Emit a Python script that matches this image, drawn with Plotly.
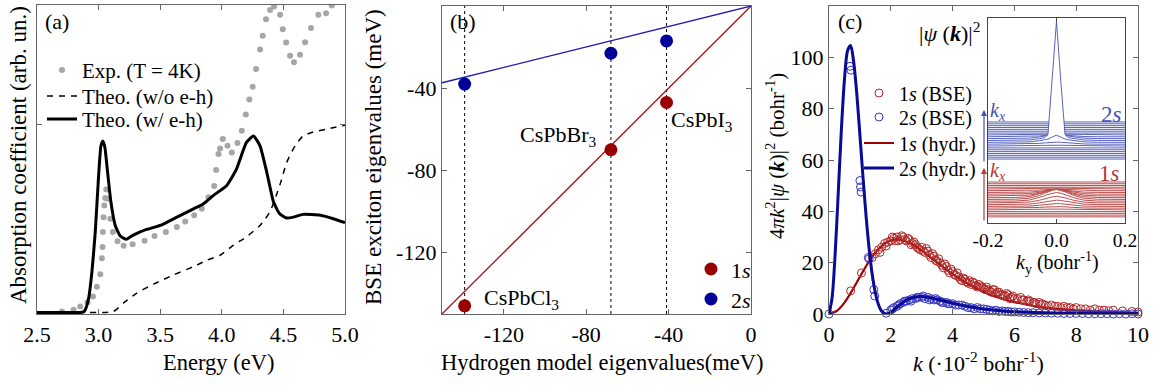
import plotly.graph_objects as go

W, H = 1158, 386
def px(x): return x / W
def py(y): return 1 - y / H

FONT = "'Liberation Serif', 'Times New Roman', Times, 'DejaVu Serif', serif"

# ---------------- data: panel (a) ----------------
exp_E = [2.703, 2.797, 2.851, 2.91, 2.954, 2.986, 3.014, 3.027, 3.032, 3.035, 3.04, 3.046, 3.054, 3.062,
         3.073, 3.095, 3.116, 3.154, 3.203, 3.276, 3.373, 3.454, 3.546, 3.635, 3.703, 3.776, 3.838, 3.892,
         3.938, 3.954, 3.973, 3.986, 4.008, 4.046, 4.081, 4.127, 4.162, 4.195, 4.224, 4.251, 4.278, 4.311,
         4.332, 4.359, 4.392, 4.424, 4.473, 4.495, 4.522, 4.554, 4.586, 4.635, 4.676, 4.724, 4.784, 4.846, 4.892]
exp_abs = [0.3, 0.9, 1.9, 3.3, 5.2, 8.4, 12.4, 17.6, 21.3, 26.2, 31.0, 34.8, 37.2, 40.0,
           37.0, 30.5, 26.2, 23.2, 21.7, 22.2, 23.3, 24.9, 26.2, 27.8, 29.6, 31.6, 33.7, 37.5,
           41.1, 46.3, 51.5, 53.3, 56.4, 54.2, 52.0, 55.1, 59.1, 64.4, 69.3, 73.4, 79.2, 85.5,
           90.0, 95.4, 98.4, 99.5, 96.8, 92.1, 87.8, 83.5, 81.4, 83.8, 87.9, 92.5, 96.8, 97.3, 99.8]

theo_eh_E = [2.5, 2.85, 2.878, 2.892, 2.919, 2.946, 2.973, 3.0, 3.019, 3.035, 3.051, 3.073, 3.1, 3.135,
             3.176, 3.224, 3.27, 3.338, 3.39, 3.5, 3.635, 3.77, 3.85, 3.93, 4.04, 4.12, 4.2, 4.257,
             4.31, 4.365, 4.42, 4.47, 4.527, 4.58, 4.66, 4.8, 4.905, 5.0]
theo_eh_abs = [0, 0, 0.2, 0.9, 4.6, 13.3, 26.2, 44.5, 54.2, 55.8, 53.7, 45.6, 35.9, 28.3,
               24.9, 23.8, 24.9, 26.2, 27.0, 28.3, 31.0, 33.7, 35.3, 38.0, 41.3, 46.7, 55.3, 57.4,
               54.2, 45.6, 35.9, 32.1, 30.7, 31.0, 31.9, 31.6, 30.5, 29.2]

theo_noeh_E = [2.93, 3.12, 3.2, 3.31, 3.446, 3.608, 3.77, 3.88, 3.986, 4.095, 4.2, 4.31, 4.39, 4.47,
               4.527, 4.595, 4.66, 4.743, 4.85, 5.0]
theo_noeh_abs = [0, 0.3, 3.0, 6.3, 9.2, 12.2, 14.9, 17.0, 18.6, 21.9, 24.6, 28.3, 32.7, 41.3,
                 48.8, 54.2, 57.4, 58.7, 59.6, 60.9]

energy_ticks = [2.5, 3.0, 3.5, 4.0, 4.5, 5.0]
energy_ticktext = ["2.5", "3.0", "3.5", "4.0", "4.5", "5.0"]

# ---------------- data: panel (b) ----------------
materials = ["CsPbCl<sub>3</sub>", "CsPbBr<sub>3</sub>", "CsPbI<sub>3</sub>"]
hyd_1s = [-139, -68, -41]
bse_1s = [-146, -70, -47]
hyd_2s = [-139, -68, -41]
bse_2s = [-38, -23, -17]
fit_x = [-150, 0]
fit_1s = [-150, 0]
fit_2s = [-37.4, 0]
ev_ticks = [-120, -80, -40, 0]
ev_ticktext = ["-120", "-80", "-40", "0"]

# ---------------- data: panel (c) ----------------
k_1s_h = [0, 0.25, 0.5, 0.75, 1.0, 1.25, 1.5, 1.75, 2.0, 2.25, 2.5, 2.75, 3.0, 3.5, 4.0, 4.5, 5.0,
          5.5, 6.0, 6.5, 7.0, 7.5, 8.0, 9.0, 10.0]
v_1s_h = [0, 1.16, 4.42, 9.15, 14.5, 19.66, 23.95, 26.97, 28.62, 28.98, 28.27, 26.77, 24.75, 20.07,
          15.5, 11.66, 8.6, 6.33, 4.65, 3.42, 2.53, 1.89, 1.4, 0.82, 0.49]

k_2s_h = [0, 0.1, 0.2, 0.3, 0.4, 0.5, 0.6, 0.7, 0.8, 0.9, 1.0, 1.1, 1.2, 1.3, 1.4, 1.5, 1.6, 1.7,
          1.85, 2.0, 2.2, 2.5, 2.8, 3.0, 3.5, 4.0, 4.5, 5.0, 6.0, 7.0, 8.0, 10.0]
v_2s_h = [0, 6.33, 23.6, 47.4, 71.7, 91.3, 102.6, 104.6, 98.1, 85.7, 69.8, 53.4, 38.1, 25.3, 15.3,
          8.3, 3.7, 1.15, 0, 0.71, 2.72, 5.42, 6.64, 6.79, 5.72, 4.17, 2.89, 1.97, 0.91, 0.44, 0.22, 0.06]

k_1s_bse = [0.7, 1.05, 1.4, 1.5, 1.6, 1.7, 1.8, 1.9, 2.0, 2.1, 2.2, 2.3, 2.4, 2.5, 2.6, 2.7, 2.8, 2.9,
            3.0, 3.1, 3.2, 3.3, 3.4, 3.5, 3.6, 3.7, 3.8, 3.9, 4.0, 4.1, 4.2, 4.3, 4.4, 4.5, 4.6, 4.7,
            4.8, 4.9, 5.0, 5.1, 5.2, 5.3, 5.4, 5.5, 5.6, 5.7, 5.8, 5.9, 6.0, 6.2, 6.4, 6.6, 6.8, 7.0,
            7.2, 7.4, 7.6, 7.8, 8.0, 8.3, 8.6, 8.9, 9.2, 9.5, 9.8, 10.0,
            1.65, 1.85, 2.05, 2.25, 2.45, 2.65, 2.85, 3.05, 3.25, 3.45, 3.65, 3.85, 4.05, 4.25, 4.45,
            4.65, 4.85, 5.05, 5.25, 5.45, 5.65, 5.85, 6.1, 6.3, 6.5, 6.7, 6.9, 7.1, 7.5, 7.9,
            2.15, 2.35, 2.55, 2.75, 2.95, 3.15, 3.35, 3.55, 3.75, 3.95, 4.15, 4.35, 4.55, 4.75, 4.95,
            5.15, 5.35, 5.55, 5.75, 5.95, 6.25, 6.45, 6.65, 6.85, 7.3, 7.7, 8.15, 8.45, 8.75, 9.05]
v_1s_bse = [9.0, 16.0, 22.0, 23.5, 25.0, 26.0, 27.5, 28.0, 28.5, 29.5, 30.0, 29.0, 30.0, 28.5, 29.0,
            27.5, 27.0, 25.5, 26.0, 24.0, 24.5, 22.0, 22.5, 20.5, 20.0, 18.0, 18.5, 16.0, 16.5, 15.0,
            14.5, 13.0, 13.5, 12.0, 11.5, 12.0, 10.5, 11.0, 10.0, 10.5, 9.0, 9.5, 8.0, 8.5, 7.5, 7.0,
            7.5, 6.5, 6.0, 6.5, 5.0, 4.5, 4.5, 3.5, 3.5, 3.0, 3.0, 2.5, 2.5, 2.0, 2.0, 1.5, 1.5, 1.2,
            1.0, 0.8,
            24.0, 26.5, 30.0, 28.5, 29.0, 27.0, 26.0, 24.5, 23.0, 21.0, 19.0, 17.0, 15.5, 13.5, 12.5,
            12.5, 11.5, 9.5, 8.5, 8.5, 7.0, 6.0, 6.0, 5.5, 5.0, 4.0, 4.0, 3.0, 2.5, 2.0,
            28.5, 30.5, 29.5, 28.0, 25.0, 25.5, 23.5, 21.5, 19.5, 17.5, 16.0, 14.0, 13.0, 11.0, 10.5,
            9.5, 9.5, 7.5, 8.0, 7.0, 5.5, 5.5, 4.5, 3.5, 3.0, 2.5, 2.0, 1.5, 1.5, 1.3]

k_2s_bse = [0, 0.68, 0.71, 1.0, 1.02, 1.04, 1.27, 1.3, 1.45, 1.48, 1.85, 2.0, 2.1, 2.2, 2.3, 2.4, 2.5,
            2.6, 2.7, 2.8, 2.9, 3.0, 3.1, 3.2, 3.3, 3.4, 3.5, 3.6, 3.7, 3.8, 3.9, 4.0, 4.2, 4.4, 4.6,
            4.8, 5.0, 5.2, 5.4, 5.6, 5.8, 6.0, 6.3, 6.6, 7.0, 7.4, 7.8, 8.2, 8.6, 9.0, 9.4, 9.8, 10.0,
            2.05, 2.25, 2.45, 2.65, 2.85, 3.05, 3.25, 3.45, 3.65, 3.85, 4.1, 4.3, 4.5, 4.7, 4.9, 5.1,
            5.3, 5.5, 5.7, 5.9, 6.15, 6.45, 6.8, 7.2, 7.6, 8.0, 8.4, 8.8, 9.2, 9.6]
v_2s_bse = [0, 96.5, 95.0, 52.0, 49.5, 47.5, 22.0, 21.5, 9.5, 7.0, 0.3, 1.5, 2.5, 3.0, 4.0, 4.5, 5.0,
            5.5, 6.0, 6.0, 6.5, 6.5, 6.0, 6.5, 6.0, 5.5, 5.5, 5.0, 4.5, 4.5, 4.0, 4.0, 3.5, 3.0, 2.5,
            2.5, 2.0, 1.5, 1.5, 1.2, 1.0, 0.8, 0.6, 0.5, 0.4, 0.3, 0.2, 0.2, 0.1, 0.1, 0.1, 0.1, 0.0,
            2.0, 3.5, 5.0, 5.0, 6.5, 7.0, 5.5, 6.0, 4.5, 4.0, 3.5, 3.5, 2.5, 2.0, 2.0, 1.8,
            1.2, 1.0, 1.0, 0.8, 0.7, 0.5, 0.4, 0.3, 0.2, 0.2, 0.1, 0.1, 0.0, 0.0]

# inset (waterfall of |psi(k)|^2)
inset_kx = [-0.2, -0.18, -0.16, -0.14, -0.12, -0.1, -0.08, -0.06, -0.04, -0.02, 0.0,
            0.02, 0.04, 0.06, 0.08, 0.1, 0.12, 0.14, 0.16, 0.18, 0.2]
inset_ky = [-0.2, -0.12, -0.08, -0.05, -0.035, -0.025, -0.012, 0.0, 0.012, 0.025, 0.035, 0.05, 0.08, 0.12, 0.2]
spike_shape = [0, 0, 0, 0, 0, 0.02, 0.5, 1.0, 0.5, 0.02, 0, 0, 0, 0, 0]
dome_shape = [0, 0.02, 0.12, 0.4, 0.62, 0.78, 0.93, 1.0, 0.93, 0.78, 0.62, 0.4, 0.12, 0.02, 0]
amp_2s_spike = [0, 0, 0, 0, 0, 0, 0, 0, 0, 0.015, 0.56, 0.015, 0, 0, 0, 0, 0, 0, 0, 0, 0]
amp_2s_dome = [0, 0, 0, 0, 0, 0, 0, 0.004, 0.01, 0.02, 0.022, 0.02, 0.01, 0.004, 0, 0, 0, 0, 0, 0, 0]
amp_1s_dome = [0, 0, 0.001, 0.002, 0.004, 0.008, 0.014, 0.022, 0.032, 0.042, 0.048, 0.042, 0.032,
               0.022, 0.014, 0.008, 0.004, 0.002, 0.001, 0, 0]
inset_ticks = [-0.2, 0.0, 0.2]
inset_ticktext = ["-0.2", "0.0", "0.2"]

# ---------------- colours ----------------
RED = "#990000"
BLUE = "#000099"
RED_L = "#a31515"
BLUE_L = "#1a1aa8"
RED_C = "#b02828"
BLUE_C = "#3838c0"
RED_W = "#b23a3a"
BLUE_W = "#4652b8"
AX = "#666666"

fig = go.Figure()

# ---- panel (a)
fig.add_trace(go.Scatter(x=exp_E, y=exp_abs, mode="markers", name="Exp. (T = 4K)",
                         marker=dict(color="#a6a6a6", size=6), xaxis="x", yaxis="y", legend="legend"))
fig.add_trace(go.Scatter(x=theo_noeh_E, y=theo_noeh_abs, mode="lines", name="Theo. (w/o e-h)",
                         line=dict(color="black", width=1.5, dash="6px,6px", shape="spline", smoothing=0.6),
                         xaxis="x", yaxis="y", legend="legend2"))
fig.add_trace(go.Scatter(x=theo_eh_E, y=theo_eh_abs, mode="lines", name="Theo. (w/ e-h)",
                         line=dict(color="black", width=3, shape="spline", smoothing=0.5),
                         xaxis="x", yaxis="y", legend="legend3"))

# ---- panel (b)
for xv in hyd_1s:
    fig.add_trace(go.Scatter(x=[xv, xv], y=[-150, 0], mode="lines", showlegend=False,
                             line=dict(color="black", width=1, dash="3px,3px"), xaxis="x2", yaxis="y2"))
fig.add_trace(go.Scatter(x=fit_x, y=fit_1s, mode="lines", showlegend=False,
                         line=dict(color=RED_L, width=1.3), xaxis="x2", yaxis="y2"))
fig.add_trace(go.Scatter(x=fit_x, y=fit_2s, mode="lines", showlegend=False,
                         line=dict(color=BLUE_L, width=1.3), xaxis="x2", yaxis="y2"))
fig.add_trace(go.Scatter(x=hyd_1s, y=bse_1s, mode="markers", name="1<i>s</i>",
                         marker=dict(color=RED, size=13), xaxis="x2", yaxis="y2", legend="legend4",
                         cliponaxis=False))
fig.add_trace(go.Scatter(x=hyd_2s, y=bse_2s, mode="markers", name="2<i>s</i>",
                         marker=dict(color=BLUE, size=13), xaxis="x2", yaxis="y2", legend="legend5",
                         cliponaxis=False))

# ---- panel (c)
fig.add_trace(go.Scatter(x=k_1s_h, y=v_1s_h, mode="lines", name="1<i>s</i> (hydr.)",
                         line=dict(color="#a00000", width=2.2, shape="spline", smoothing=0.8),
                         xaxis="x3", yaxis="y3", legend="legend8"))
fig.add_trace(go.Scatter(x=k_1s_bse, y=v_1s_bse, mode="markers", name="1<i>s</i> (BSE)",
                         marker=dict(symbol="circle-open", color=RED_C, size=8, line=dict(width=1)),
                         xaxis="x3", yaxis="y3", legend="legend6", cliponaxis=False))
fig.add_trace(go.Scatter(x=k_2s_bse, y=v_2s_bse, mode="markers", name="2<i>s</i> (BSE)",
                         marker=dict(symbol="circle-open", color=BLUE_C, size=8, line=dict(width=1)),
                         xaxis="x3", yaxis="y3", legend="legend7", cliponaxis=False))
fig.add_trace(go.Scatter(x=k_2s_h, y=v_2s_h, mode="lines", name="2<i>s</i> (hydr.)",
                         line=dict(color="#0a0a96", width=3, shape="spline", smoothing=0.8),
                         xaxis="x3", yaxis="y3", legend="legend9", cliponaxis=False))

# ---- inset waterfall (back rows first, white fill hides lines behind)
def waterfall(amp_a, shape_a, amp_b, shape_b, y0, height, floor, color):
    n = len(inset_kx)
    for i in range(n - 1, -1, -1):
        base = y0 + (inset_kx[i] - inset_kx[0]) / (inset_kx[-1] - inset_kx[0]) * height
        prof = [base + amp_a[i] * sa + (amp_b[i] * sb if amp_b else 0)
                for sa, sb in zip(shape_a, shape_b if shape_b else shape_a)]
        xs = inset_ky + [inset_ky[-1], inset_ky[0], inset_ky[0]]
        ys = prof + [floor, floor, prof[0]]
        fig.add_trace(go.Scatter(x=xs, y=ys, mode="lines", fill="toself", fillcolor="white",
                                 line=dict(color="rgba(0,0,0,0)", width=0), showlegend=False,
                                 hoverinfo="skip", xaxis="x4", yaxis="y4"))
        fig.add_trace(go.Scatter(x=inset_ky, y=prof, mode="lines", showlegend=False,
                                 line=dict(color=color, width=0.9), hoverinfo="skip",
                                 xaxis="x4", yaxis="y4"))

waterfall(amp_2s_spike, spike_shape, amp_2s_dome, dome_shape, 0.312, 0.181, 0.29, BLUE_W)
waterfall(amp_1s_dome, dome_shape, None, None, 0.03, 0.17, 0.005, RED_W)

# ---------------- axes ----------------
tickfont = dict(family=FONT, size=22, color="black")
common = dict(showline=True, linecolor=AX, linewidth=1.3, mirror="ticks", ticks="inside",
              ticklen=5, tickcolor=AX, tickwidth=1, showgrid=False, zeroline=False,
              tickfont=tickfont, automargin=False)
ydom = [py(314), py(6)]
fig.update_layout(
    xaxis=dict(domain=[px(37), px(345)], range=[2.5, 5.0], tickvals=energy_ticks,
               ticktext=energy_ticktext, anchor="y", **common),
    yaxis=dict(domain=[py(314), py(5)], range=[-0.5, 100], tickvals=[61], showticklabels=False,
               anchor="x", **common),
    xaxis2=dict(domain=[px(442), px(751)], range=[-150, 0], tickvals=ev_ticks, ticktext=ev_ticktext,
                anchor="y2", **common),
    yaxis2=dict(domain=ydom, range=[-150, 0], tickvals=ev_ticks, ticktext=ev_ticktext,
                anchor="x2", **common),
    xaxis3=dict(domain=[px(829), px(1138)], range=[0, 10], tickvals=[0, 2, 4, 6, 8, 10],
                anchor="y3", **common),
    yaxis3=dict(domain=ydom, range=[0, 120], tickvals=[0, 20, 40, 60, 80, 100, 120],
                anchor="x3", **common),
)
inset_common = dict(common)
inset_common.update(linecolor="#444444", linewidth=1, tickcolor="#444444", ticklen=4,
                    tickfont=dict(family=FONT, size=19.5, color="black"))
fig.update_layout(
    xaxis4=dict(domain=[px(988), px(1125)], range=[-0.2, 0.2], tickvals=inset_ticks,
                ticktext=inset_ticktext, anchor="y4", **inset_common),
    yaxis4=dict(domain=[py(223), py(18)], range=[0, 1], showticklabels=False, tickvals=[],
                anchor="x4", **inset_common),
)

# ---------------- legends (one entry each, positioned individually) ----------------
def leg(text_x, row_y, fs):
    h = 1.3 * fs + 3
    return dict(x=px(text_x - 40), y=py(row_y - h / 2 - 5), xanchor="left", yanchor="top",
                bgcolor="rgba(0,0,0,0)", borderwidth=0,
                font=dict(family=FONT, size=fs, color="black"))

fig.update_layout(
    legend=leg(82, 70, 21), legend2=leg(82, 96, 21), legend3=leg(82, 119, 21),
    legend4=leg(731, 269, 22), legend5=leg(731, 299, 22),
    legend6=leg(899, 93, 20), legend7=leg(899, 117, 20), legend8=leg(899, 143, 20),
    legend9=leg(899, 168, 20),
)

# ---------------- annotations ----------------
ann = []
def txt(text, x, y, size=22, xanchor="center", yanchor="middle", color="black", angle=0):
    ann.append(dict(text=text, x=px(x), y=py(y), xref="paper", yref="paper", showarrow=False,
                    xanchor=xanchor, yanchor=yanchor, textangle=angle,
                    font=dict(family=FONT, size=size, color=color)))

txt("(a)", 43, 22, 22, xanchor="left")
txt("(b)", 448, 22, 22, xanchor="left")
txt("(c)", 836, 22, 22, xanchor="left")
txt("Energy (eV)", 218, 362, 22.5)
txt("Hydrogen model eigenvalues(meV)", 602, 362, 22.5)
txt("<i>k</i> (·10<sup>-2</sup> bohr<sup>-1</sup>)", 978, 362, 22)
txt("Absorption coefficient (arb. un.)", 18, 155, 23, angle=-90)
txt("BSE exciton eigenvalues (meV)", 373, 157, 23, angle=-90)
txt("4<i>πk</i><sup>2</sup>|<i>ψ</i> (<b><i>k</i></b>)|<sup>2</sup> (bohr<sup>-1</sup>)", 775, 156, 21, angle=-90)
txt("|<i>ψ</i> (<b><i>k</i></b>)|<sup>2</sup>", 917, 32, 22, xanchor="left")
txt("2<i>s</i>", 1124, 115, 23, xanchor="right", color=BLUE_W)
txt("1<i>s</i>", 1122, 173, 23, xanchor="right", color=RED_W)
txt("<i>k</i><sub><i>x</i></sub>", 988, 112, 20, xanchor="left", color=BLUE_W)
txt("<i>k</i><sub><i>x</i></sub>", 988, 171, 20, xanchor="left", color=RED_W)
txt("<i>k</i><sub>y</sub> (bohr<sup>-1</sup>)", 1057, 263, 20)

# material labels attached to the 1s points
label_style = [dict(xanchor="left", xshift=17, yshift=7),
               dict(xanchor="right", xshift=-13, yshift=14),
               dict(xanchor="left", xshift=2, yshift=-18)]
for name, xv, yv, st in zip(materials, hyd_1s, bse_1s, label_style):
    ann.append(dict(text=name, x=xv, y=yv, xref="x2", yref="y2", showarrow=False,
                    yanchor="middle", font=dict(family=FONT, size=22, color="black"), **st))

# k_x arrows
for color, head_y, tail_y in [(BLUE_W, 110, 163), (RED_W, 168, 222)]:
    ann.append(dict(text="", x=px(984), y=py(head_y), xref="paper", yref="paper",
                    ax=0, ay=tail_y - head_y, axref="pixel", ayref="pixel", showarrow=True,
                    arrowhead=2, arrowsize=1, arrowwidth=1.2, arrowcolor=color))

fig.update_layout(annotations=ann, width=W, height=H, margin=dict(l=0, r=0, t=0, b=0),
                  template="none", paper_bgcolor="white", plot_bgcolor="white",
                  font=dict(family=FONT, color="black"))

fig.write_html("out.html")
